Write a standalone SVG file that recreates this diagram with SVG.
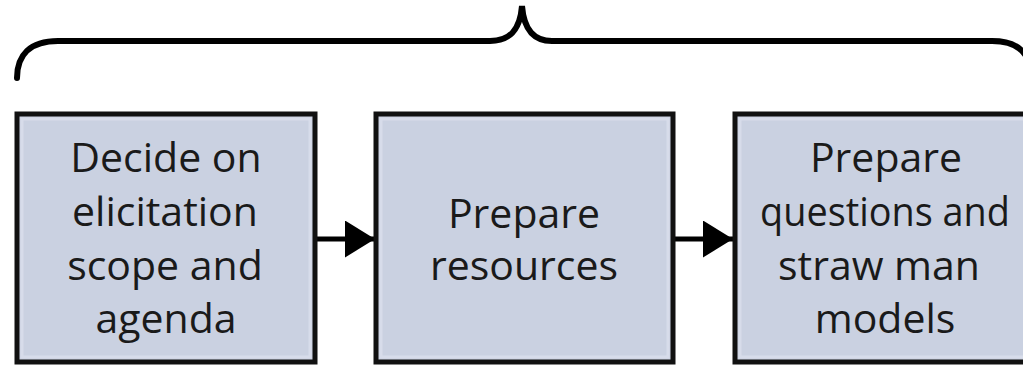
<svg xmlns="http://www.w3.org/2000/svg" width="1023" height="366" viewBox="0 0 1023 366">
  <style>
    .box { fill: #cad1e1; stroke: #111; stroke-width: 5; }
    .inner { fill: none; stroke: #d7dcea; stroke-width: 3; }
    .label { font-family: "Open Sans", "Noto Sans", sans-serif; font-size: 41px; fill: #1a1a1a; text-anchor: middle; }
    .conn { stroke: #000; stroke-width: 5; fill: none; }
    .brace { stroke: #000; stroke-width: 6; fill: none; stroke-linecap: round; }
  </style>
  <defs>
    <marker id="arrow" viewBox="0 0 30 37" refX="30" refY="18.5" markerWidth="30" markerHeight="37" markerUnits="userSpaceOnUse" orient="auto">
      <path d="M0,0 L30,18.5 L0,37 Z" fill="#000"/>
    </marker>
  </defs>
  <rect width="1023" height="366" fill="#fff"/>

  <!-- curly brace spanning all steps -->
  <path class="brace" d="M17 78 C17 55 30 41 58 41 L490 41 C510 41 520 30 522 6 C524 30 534 41 552 41 L992 41 C1010 41 1020 46 1026 56"/>

  <g id="connectors">
    <line class="conn" x1="315" y1="239" x2="375" y2="239" marker-end="url(#arrow)"/>
    <line class="conn" x1="673" y1="239" x2="733" y2="239" marker-end="url(#arrow)"/>
  </g>

  <g id="node-scope">
    <rect class="box" x="17" y="114" width="298" height="248"/>
    <rect class="inner" x="22" y="119" width="288" height="238"/>
    <text class="label" x="166" y="172">Decide on</text>
    <text class="label" x="165" y="226">elicitation</text>
    <text class="label" x="165" y="280">scope and</text>
    <text class="label" x="166" y="333">agenda</text>
  </g>

  <g id="node-resources">
    <rect class="box" x="376" y="114" width="297" height="248"/>
    <rect class="inner" x="381" y="119" width="287" height="238"/>
    <text class="label" x="524" y="228">Prepare</text>
    <text class="label" x="524" y="280">resources</text>
  </g>

  <g id="node-questions">
    <rect class="box" x="735" y="114" width="298" height="248"/>
    <rect class="inner" x="740" y="119" width="288" height="238"/>
    <text class="label" x="886" y="172">Prepare</text>
    <text class="label" x="885" y="226" textLength="250" lengthAdjust="spacingAndGlyphs">questions and</text>
    <text class="label" x="879" y="280">straw man</text>
    <text class="label" x="885" y="333">models</text>
  </g>
</svg>
